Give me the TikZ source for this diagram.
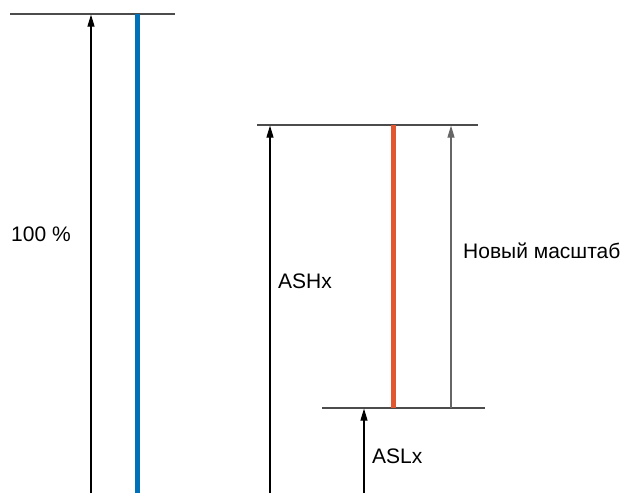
\documentclass[tikz,border=0pt]{standalone}
\usepackage{fontspec}
\setmainfont{Liberation Sans}
\usetikzlibrary{arrows.meta}
\begin{document}
\begin{tikzpicture}[x=1pt,y=-1pt,
  lvl/.style={draw=black!70, line width=1.3pt},
  dim/.style={draw=black, line width=1.1pt, -{Triangle[length=12pt,width=7pt]}},
  dimgray/.style={draw=black!60, line width=1.1pt, -{Triangle[length=12pt,width=7pt]}},
  lbl/.style={inner sep=0pt, anchor=base west, font=\fontsize{21}{25}\selectfont}]
\useasboundingbox (0,0) rectangle (634,493);
% levels
\coordinate (t1a) at (10,14); \coordinate (t1b) at (175,14);
\coordinate (t2a) at (257,125); \coordinate (t2b) at (478,125);
\coordinate (t3a) at (322,408); \coordinate (t3b) at (485,408);
\draw[lvl] (t1a) -- (t1b);
\draw[lvl] (t2a) -- (t2b);
\draw[lvl] (t3a) -- (t3b);
% colored bars
\coordinate (b1a) at (137,14); \coordinate (b1b) at (137,493);
\coordinate (b2a) at (393,125); \coordinate (b2b) at (393,408);
\draw[line width=5pt, draw={rgb,255:red,0;green,112;blue,184}] (b1b) -- (b1a);
\draw[line width=5pt, draw={rgb,255:red,226;green,87;blue,48}] (b2b) -- (b2a);
% arrows
\coordinate (a1s) at (91,493); \coordinate (a1e) at (91,14.6);
\coordinate (a2s) at (270,493); \coordinate (a2e) at (270,125.6);
\coordinate (a3s) at (451,408); \coordinate (a3e) at (451,125.6);
\coordinate (a4s) at (364,493); \coordinate (a4e) at (364,408.6);
\draw[dim] (a1s) -- (a1e);
\draw[dim] (a2s) -- (a2e);
\draw[dimgray] (a3s) -- (a3e);
\draw[dim] (a4s) -- (a4e);
% labels
\node[lbl] (l100) at (11,241.5) {100 \%};
\node[lbl] (lash) at (278,288.5) {ASHx};
\node[lbl] (lnew) at (463,258.5) {Новый масштаб};
\node[lbl] (lasl) at (372,463.5) {ASLx};
\end{tikzpicture}
\end{document}
